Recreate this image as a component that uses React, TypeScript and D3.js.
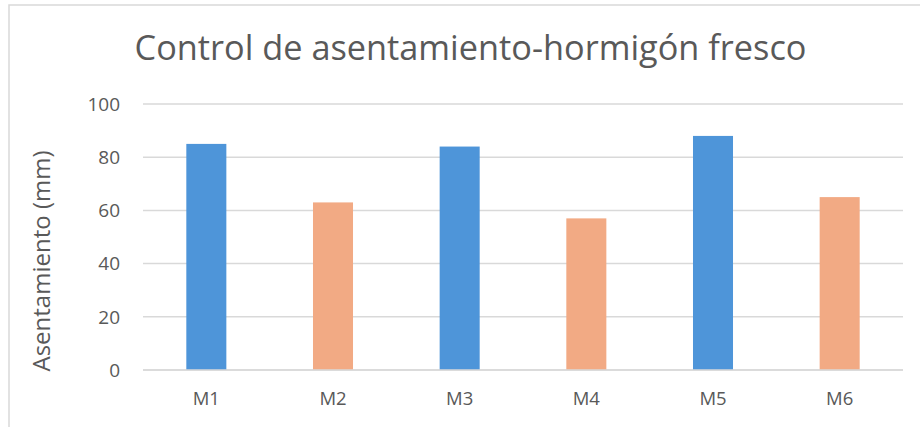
import React from "react";
import * as d3 from "d3";

const categories = ["M1", "M2", "M3", "M4", "M5", "M6"];
const values = [85, 63, 84, 57, 88, 65];
const barColors = ["#4e95d9", "#f2aa84", "#4e95d9", "#f2aa84", "#4e95d9", "#f2aa84"];
const yTicks = [0, 20, 40, 60, 80, 100];
const title = "Control de asentamiento-hormigón fresco";
const yTitle = "Asentamiento (mm)";

const W = 920;
const H = 427;
const FONT = "'Open Sans', sans-serif";
const TEXT = "#595959";

export default function App() {
  const left = 143, right = 903, top = 104, bottom = 370;
  const x = d3.scaleBand<string>().domain(categories).range([left, right]).paddingInner(0.684).paddingOuter(0.342);
  const y = d3.scaleLinear().domain([0, 100]).range([bottom, top]);
  return (
    <svg width={W} height={H} style={{ position: "absolute", left: 0, top: 0, display: "block" }}>
      <rect x={0} y={0} width={W} height={H} fill="#fff" />
      <rect x={9} y={5} width={W + 20} height={H + 20} fill="#fff" stroke="#d9d9d9" strokeWidth={1.5} />
      <text x={470.5} y={60} textAnchor="middle" fontFamily={FONT} fontSize={34.3} fill={TEXT}>{title}</text>
      {yTicks.map((t) => (
        <g key={t}>
          <line x1={left} x2={right} y1={y(t)} y2={y(t)} stroke="#d9d9d9" strokeWidth={1.5} />
          <text x={120} y={y(t)} dy="0.36em" textAnchor="end" fontFamily={FONT} fontSize={19} fill={TEXT}>{t}</text>
        </g>
      ))}
      {categories.map((c, i) => (
        <rect key={c} x={x(c)} y={y(values[i])} width={x.bandwidth()} height={y(0) - y(values[i])} fill={barColors[i]} />
      ))}
      <line x1={left} x2={right} y1={y(0)} y2={y(0)} stroke="#d9d9d9" strokeWidth={1.5} />
      {categories.map((c) => (
        <text key={c} x={(x(c) as number) + x.bandwidth() / 2} y={405} textAnchor="middle" fontFamily={FONT} fontSize={18.5} fill={TEXT}>{c}</text>
      ))}
      <text transform={`translate(50, 261) rotate(-90)`} textAnchor="middle" fontFamily={FONT} fontSize={24} fill={TEXT}>{yTitle}</text>
    </svg>
  );
}
